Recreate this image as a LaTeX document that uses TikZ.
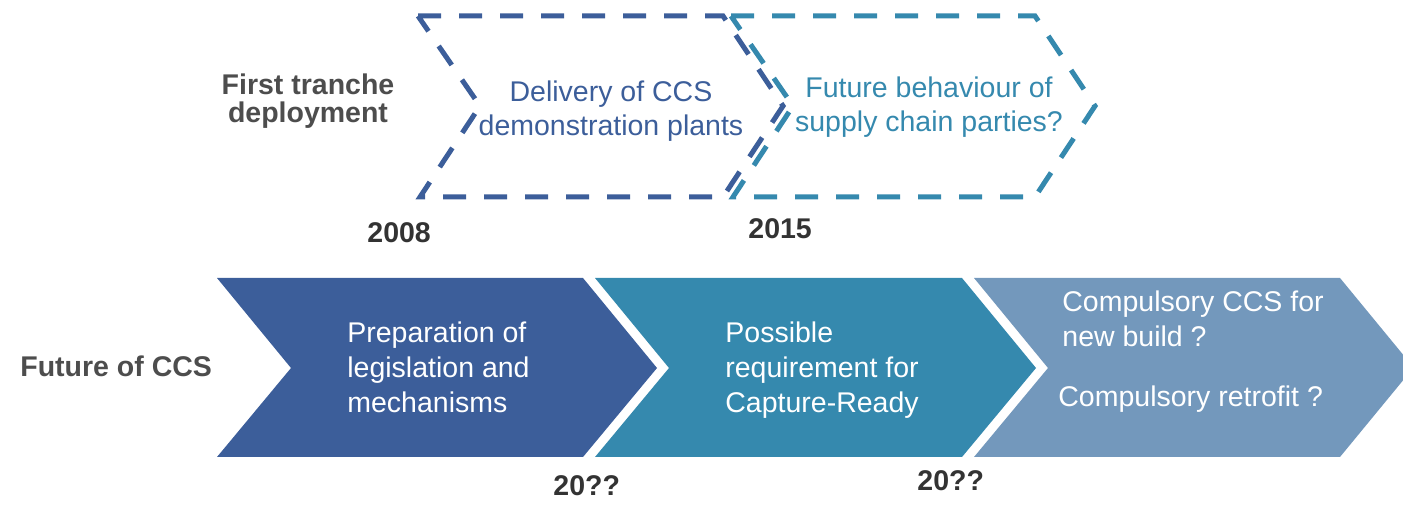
\documentclass[tikz,border=0pt]{standalone}
\usepackage{fontspec}
\setmainfont{Liberation Sans}
\definecolor{cblue}{HTML}{3C5E9A}
\definecolor{cteal}{HTML}{3589AE}
\definecolor{cgrey}{HTML}{7398BC}
\definecolor{lblgray}{HTML}{4D4D4D}
\definecolor{yeargray}{HTML}{333333}
\begin{document}
\begin{tikzpicture}[x=0.5pt,y=-0.5pt,
  dashbox/.style={line width=2.5pt, dash pattern=on 11.5pt off 9pt, line join=miter},
  chevtext/.style={font=\fontsize{14.25}{17.5}\selectfont, text=white, align=left, anchor=base west, inner sep=0pt},
  toptext/.style={font=\fontsize{14.25}{17}\selectfont, align=center, anchor=base, inner sep=0pt},
  lbl/.style={font=\bfseries\fontsize{14.25}{14}\selectfont, text=lblgray, inner sep=0pt},
  year/.style={font=\bfseries\fontsize{14.25}{14}\selectfont, text=yeargray, anchor=base west, inner sep=0pt}]
\useasboundingbox (0,0) rectangle (1403,507);
% dashed top shapes
\draw[dashbox, draw=cblue] (418,16) -- (723,16) -- (783,106) -- (723,197) -- (420,197) -- (480,106) -- cycle;
\draw[dashbox, draw=cteal] (731,16) -- (1035,16) -- (1095,106) -- (1035,197) -- (733,197) -- (793,106) -- cycle;
\node[toptext, text=cblue] (deliv) at (611,136) {Delivery of CCS\\demonstration plants};
\node[toptext, text=cteal] (future) at (929,132) {Future behaviour of\\supply chain parties?};
% labels
\node[lbl, align=center, anchor=base] (first) at (308,123) {First tranche\\deployment};
\node[year] (y2008) at (367,243) {2008};
\node[year] (y2015) at (748,239) {2015};
\node[lbl, anchor=base west] (fccs) at (20,377) {Future of CCS};
\node[year] (y20a) at (553,495) {20??};
\node[year] (y20b) at (917,490) {20??};
% chevrons
\fill[cblue] (217,278) -- (583,278) -- (657,368) -- (583,457) -- (217,457) -- (291,368) -- cycle;
\fill[cteal] (595,278) -- (962,278) -- (1036,368) -- (962,457) -- (595,457) -- (669,368) -- cycle;
\fill[cgrey] (974,278) -- (1340,278) -- (1403,354.6) -- (1403,380.4) -- (1340,457) -- (974,457) -- (1048,368) -- cycle;
\node[chevtext] (prep) at (347,413) {Preparation of\\legislation and\\mechanisms};
\node[chevtext] (poss) at (725,413) {Possible\\requirement for\\Capture-Ready};
\node[chevtext] (comp) at (1062,347) {Compulsory CCS for\\new build ?};
\node[chevtext] (retro) at (1058,407) {Compulsory retrofit ?};
\end{tikzpicture}
\end{document}
